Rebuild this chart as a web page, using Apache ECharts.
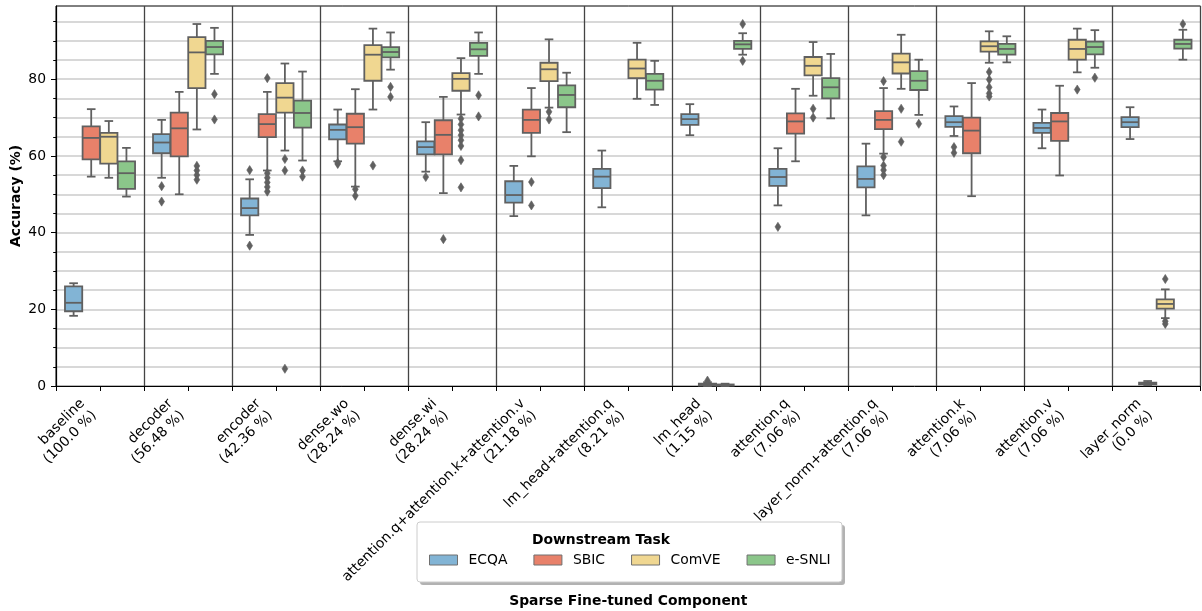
<!DOCTYPE html>
<html>
<head>
<meta charset="utf-8">
<script src="https://cdn.jsdelivr.net/npm/echarts@6/dist/echarts.min.js"></script>
<style>
  html, body { margin: 0; padding: 0; background: #ffffff; }
  #chart { width: 1202px; height: 611px; }
</style>
</head>
<body>
<div id="chart"></div>
<script>
// Fine-tuned component groups and the share of parameters they cover
const components = ['baseline', 'decoder', 'encoder', 'dense.wo', 'dense.wi',
  'attention.q+attention.k+attention.v', 'lm_head+attention.q', 'lm_head',
  'attention.q', 'layer_norm+attention.q', 'attention.k', 'attention.v', 'layer_norm'];
const shares = ['100.0', '56.48', '42.36', '28.24', '28.24', '21.18', '8.21', '1.15',
  '7.06', '7.06', '7.06', '7.06', '0.0'];

const tasks = ['ECQA', 'SBIC', 'ComVE', 'e-SNLI'];

// Box statistics per component: [lower whisker, Q1, median, Q3, upper whisker]
const ecqaStats = [
  [18.3, 19.5, 21.7, 26.0, 26.8], [54.3, 60.7, 63.5, 65.7, 69.4], [39.4, 44.5, 46.4, 48.9, 53.9],
  [58.6, 64.3, 66.8, 68.2, 72.1], [55.9, 60.4, 62.3, 63.8, 68.8], [44.3, 47.8, 49.8, 53.4, 57.4],
  [46.6, 51.6, 54.6, 56.6, 61.4], [65.4, 68.1, 69.6, 70.9, 73.5], [47.1, 52.2, 54.5, 56.6, 62.0],
  [44.5, 51.8, 54.0, 57.3, 63.2], [65.2, 67.6, 68.8, 70.4, 72.9], [62.0, 66.0, 67.3, 68.6, 72.1],
  [64.4, 67.5, 68.8, 70.1, 72.7]
];
const sbicStats = [
  [54.6, 59.1, 64.7, 67.7, 72.2], [50.0, 59.9, 67.2, 71.3, 76.7], [56.2, 64.9, 68.3, 70.9, 76.7],
  [52.0, 63.2, 67.5, 71.0, 77.4], [50.3, 60.4, 65.5, 69.3, 75.4], [59.9, 66.0, 69.4, 72.1, 77.7],
  null, [0.0, 0.1, 0.3, 0.6, 1.0], [58.6, 65.8, 69.0, 71.1, 77.5],
  [60.6, 67.0, 69.4, 71.7, 77.7], [49.5, 60.7, 66.6, 70.0, 79.0], [54.9, 63.9, 69.0, 71.2, 78.3],
  [0.2, 0.4, 0.6, 0.9, 1.3]
];
const comveStats = [
  [54.3, 58.0, 65.0, 66.0, 69.1], [66.9, 77.7, 87.0, 91.0, 94.4], [61.4, 71.3, 75.2, 79.0, 84.1],
  [72.1, 79.6, 86.4, 88.9, 93.2], [70.8, 77.0, 80.1, 81.6, 85.5], [72.6, 79.5, 82.6, 84.3, 90.4],
  [74.9, 80.3, 82.8, 85.1, 89.5], [0.0, 0.1, 0.2, 0.4, 0.6], [75.7, 81.0, 83.5, 85.8, 89.7],
  [77.5, 81.5, 84.4, 86.7, 91.6], [84.3, 87.2, 88.6, 89.9, 92.5], [81.8, 85.1, 87.9, 90.3, 93.2],
  [17.7, 20.2, 21.4, 22.6, 25.2]
];
const esnliStats = [
  [49.4, 51.4, 55.5, 58.6, 62.1], [81.4, 86.5, 88.4, 90.0, 93.4], [58.8, 67.4, 71.2, 74.4, 82.0],
  [82.5, 85.7, 87.1, 88.4, 92.2], [81.4, 86.1, 87.8, 89.5, 92.2], [66.2, 72.7, 75.9, 78.4, 81.7],
  [73.3, 77.3, 79.6, 81.4, 84.8], [86.4, 87.9, 89.1, 90.0, 92.0], [69.8, 75.0, 77.9, 80.3, 86.6],
  [70.7, 77.2, 79.6, 82.1, 85.1], [84.4, 86.4, 87.9, 89.2, 91.2], [83.0, 86.5, 88.4, 89.8, 92.8],
  [85.1, 88.0, 89.2, 90.3, 92.9]
];

// Outlying runs per component
const ecqaFliers = [[], [52.1, 48.1], [56.3, 36.6], [57.9, 58.2], [54.5], [], [], [], [41.5], [],
  [62.3, 60.8], [], []];
const sbicFliers = [[], [], [80.3, 55.5, 54.3, 53.1, 51.9, 50.7], [51.3, 49.6], [38.3], [53.2, 47.1],
  [], [1.4], [], [79.5, 59.7, 57.5, 56.3, 55.0], [], [], []];
const comveFliers = [[], [57.4, 56.2, 55.0, 53.8], [59.2, 56.2, 4.5], [57.5],
  [69.7, 68.2, 66.7, 65.4, 64.1, 62.6, 58.9, 51.8], [71.5, 69.5], [], [], [72.3, 70.0],
  [72.3, 63.7], [81.9, 79.9, 77.9, 76.3, 75.5], [77.3], [27.9, 16.9, 16.2]];
const esnliFliers = [[], [76.1, 69.5], [56.2, 54.6], [78.0, 75.4], [75.8, 70.3], [], [],
  [94.4, 84.8], [], [68.4], [], [80.4], [94.4]];

const yTicksMajor = [0, 20, 40, 60, 80];
const yTicksMinor = [0, 5, 10, 15, 20, 25, 30, 35, 40, 45, 50, 55, 60, 65, 70, 75, 80, 85, 90, 95];

const statsByTask = [ecqaStats, sbicStats, comveStats, esnliStats];
const fliersByTask = [ecqaFliers, sbicFliers, comveFliers, esnliFliers];
const palette = ['#82b4d5', '#e8816a', '#f0d791', '#8bc68a'];
const LINE = '#606060';
const FONT = 'DejaVu Sans';

const tickLabels = components.map((c, i) => c + '\n(' + shares[i] + ' %)');

// Box, whiskers, caps and median for one task, dodged inside each component band
function boxRenderer(hue) {
  return function (params, api) {
    const g = api.value(0);
    const band = api.size([1, 0])[0];
    const cx = api.coord([g, 0])[0] + (hue - 1.5) * 0.2 * band;
    const w = 0.196 * band;
    const cap = w / 2;
    const yLo = api.coord([g, api.value(1)])[1];
    const yQ1 = api.coord([g, api.value(2)])[1];
    const yMed = api.coord([g, api.value(3)])[1];
    const yQ3 = api.coord([g, api.value(4)])[1];
    const yHi = api.coord([g, api.value(5)])[1];
    const ls = { stroke: LINE, lineWidth: 1.8 };
    return {
      type: 'group',
      children: [
        { type: 'line', shape: { x1: cx, y1: yQ1, x2: cx, y2: yLo }, style: ls },
        { type: 'line', shape: { x1: cx, y1: yQ3, x2: cx, y2: yHi }, style: ls },
        { type: 'line', shape: { x1: cx - cap / 2, y1: yLo, x2: cx + cap / 2, y2: yLo }, style: ls },
        { type: 'line', shape: { x1: cx - cap / 2, y1: yHi, x2: cx + cap / 2, y2: yHi }, style: ls },
        { type: 'rect', shape: { x: cx - w / 2, y: yQ3, width: w, height: Math.max(yQ1 - yQ3, 0.5) },
          style: { fill: palette[hue], stroke: LINE, lineWidth: 1.8 } },
        { type: 'line', shape: { x1: cx - w / 2, y1: yMed, x2: cx + w / 2, y2: yMed }, style: ls }
      ]
    };
  };
}

// Thin diamond markers for outliers
function flierRenderer(hue) {
  return function (params, api) {
    const g = api.value(0);
    const band = api.size([1, 0])[0];
    const p = api.coord([g, api.value(1)]);
    const cx = p[0] + (hue - 1.5) * 0.2 * band;
    const cy = p[1];
    return {
      type: 'polygon',
      shape: { points: [[cx, cy - 4.6], [cx + 2.9, cy], [cx, cy + 4.6], [cx - 2.9, cy]] },
      style: { fill: LINE, stroke: LINE, lineWidth: 0.6 }
    };
  };
}

const series = [];
tasks.forEach((name, hue) => {
  const boxData = [];
  statsByTask[hue].forEach((s, g) => { if (s) boxData.push([g].concat(s)); });
  series.push({
    type: 'custom',
    name: name,
    xAxisIndex: 0,
    yAxisIndex: 0,
    itemStyle: { color: palette[hue] },
    encode: { x: 0, y: [1, 2, 3, 4, 5] },
    renderItem: boxRenderer(hue),
    data: boxData,
    z: 3
  });
});
tasks.forEach((name, hue) => {
  const pts = [];
  fliersByTask[hue].forEach((list, g) => list.forEach(v => pts.push([g, v])));
  series.push({
    type: 'custom',
    name: name + ' outliers',
    xAxisIndex: 0,
    yAxisIndex: 0,
    encode: { x: 0, y: 1 },
    renderItem: flierRenderer(hue),
    data: pts,
    z: 4
  });
});

const chart = echarts.init(document.getElementById('chart'), null, { renderer: 'canvas' });
chart.setOption({
  animation: false,
  backgroundColor: '#ffffff',
  textStyle: { fontFamily: FONT },
  grid: {
    left: 56, right: 1.5, top: 6, bottom: 225,
    show: true, borderColor: '#000000', borderWidth: 1,
    outerBoundsMode: 'none'
  },
  xAxis: [
    {
      type: 'category', data: tickLabels, position: 'bottom', boundaryGap: true,
      axisLine: { show: true, lineStyle: { color: '#000000', width: 1 } },
      axisTick: { show: true, alignWithLabel: true, interval: 0, length: 5, lineStyle: { color: '#000000' } },
      axisLabel: {
        interval: 0, rotate: 45, align: 'right', verticalAlign: 'bottom', margin: 33,
        fontSize: 13.9, lineHeight: 16.5, color: '#000000', fontFamily: FONT
      },
      splitLine: { show: false },
      name: 'Sparse Fine-tuned Component', nameLocation: 'middle', nameGap: 208,
      nameMoveOverlap: false,
      nameTextStyle: { fontWeight: 'bold', fontSize: 13.9, color: '#000000', fontFamily: FONT }
    },
    {
      type: 'category', data: tickLabels, position: 'bottom', boundaryGap: true,
      axisLine: { show: false },
      axisTick: { show: true, interval: 0, length: 5, lineStyle: { color: '#000000' } },
      axisLabel: { show: false },
      splitLine: { show: true, interval: 0, lineStyle: { color: '#444444', width: 1.3 } }
    }
  ],
  yAxis: [
    {
      type: 'value', min: 0, max: 99.1, interval: 5, position: 'left',
      axisLine: { show: true, lineStyle: { color: '#000000', width: 1 } },
      axisTick: { show: true, length: 2.8, customValues: yTicksMinor, lineStyle: { color: '#000000' } },
      axisLabel: { show: false },
      splitLine: { show: true, lineStyle: { color: '#cbcbcb', width: 1.5 } }
    },
    {
      type: 'value', min: 0, max: 99.1, interval: 20, position: 'left',
      axisLine: { show: false },
      axisTick: { show: true, length: 5, customValues: yTicksMajor, lineStyle: { color: '#000000' } },
      axisLabel: { customValues: yTicksMajor, margin: 10, fontSize: 13.9, color: '#000000', fontFamily: FONT },
      splitLine: { show: false },
      name: 'Accuracy (%)', nameLocation: 'middle', nameGap: 33, nameMoveOverlap: false,
      nameTextStyle: { fontWeight: 'bold', fontSize: 13.9, color: '#000000', fontFamily: FONT }
    }
  ],
  legend: {
    data: tasks,
    orient: 'horizontal',
    left: 429, top: 552,
    padding: 0,
    icon: 'rect',
    itemWidth: 28, itemHeight: 10, itemGap: 26,
    itemStyle: { borderColor: '#707070', borderWidth: 1 },
    textStyle: { fontSize: 13.9, color: '#000000', fontFamily: FONT, padding: [0, 0, 0, 6], lineHeight: 16 },
    selectedMode: false
  },
  graphic: [
    { type: 'rect', left: 420, top: 525, z: 0,
      shape: { width: 425, height: 60, r: 3 }, style: { fill: 'rgba(0,0,0,0.3)' } },
    { type: 'rect', left: 416.5, top: 521.5, z: 1,
      shape: { width: 425, height: 60, r: 3 }, style: { fill: '#ffffff', stroke: '#cccccc', lineWidth: 1 } },
    { type: 'text', left: 'center', top: 533, z: 5,
      style: { text: 'Downstream Task', font: 'bold 13.9px "DejaVu Sans"', fill: '#000000' } }
  ],
  series: series
});
</script>
</body>
</html>
